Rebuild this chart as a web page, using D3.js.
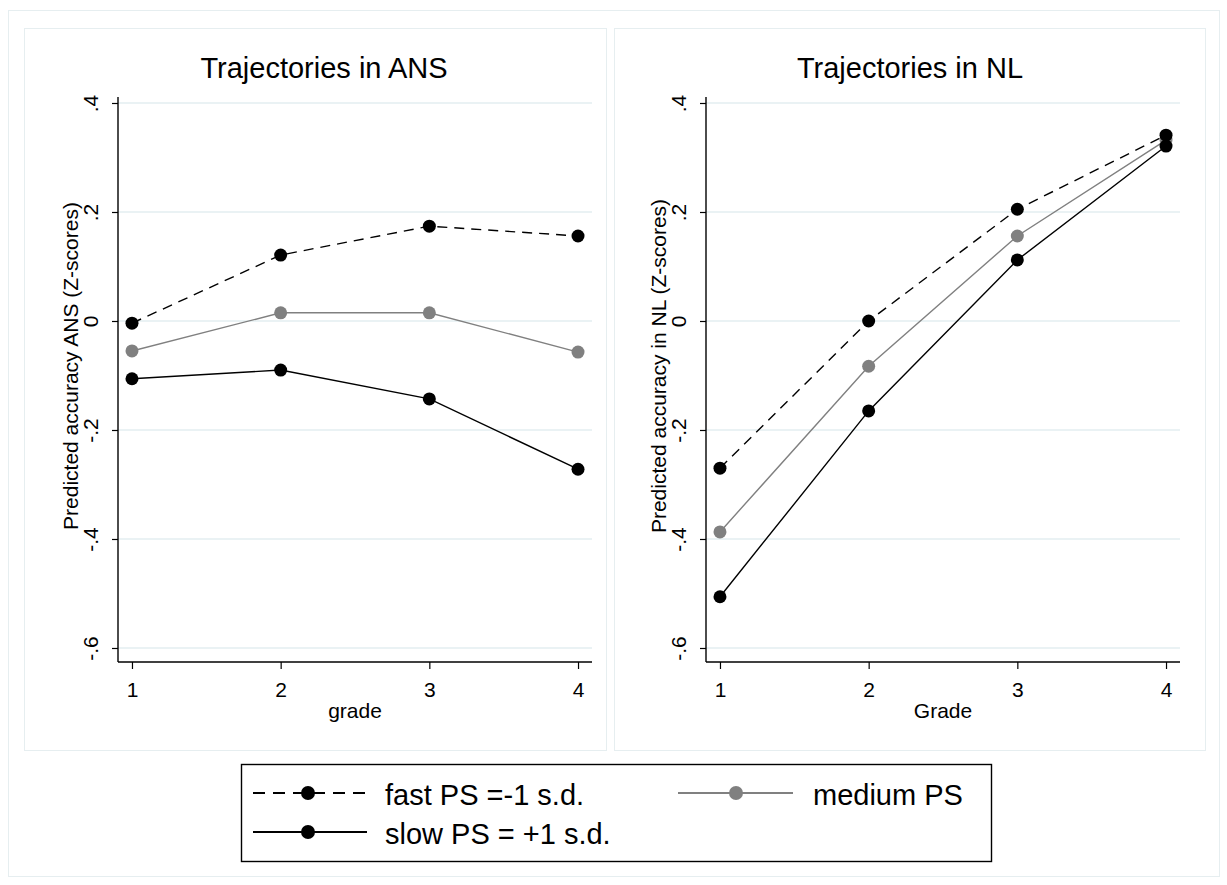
<!DOCTYPE html>
<html><head><meta charset="utf-8">
<script src="https://cdn.jsdelivr.net/npm/d3@7"></script>
<style>
body{margin:0;background:#fff;}
text{font-family:Arial,"Liberation Sans",sans-serif;fill:#000;}
</style></head><body>
<svg id="c" width="1227" height="885"></svg>
<script>
const grades = [1, 2, 3, 4];
const yTicks = [0.4, 0.2, 0, -0.2, -0.4, -0.6];
const yTickLabels = [".4", ".2", "0", "-.2", "-.4", "-.6"];
const ansFast = [-0.004, 0.121, 0.174, 0.156];
const ansMedium = [-0.055, 0.015, 0.015, -0.057];
const ansSlow = [-0.106, -0.090, -0.143, -0.272];
const nlFast = [-0.270, 0.000, 0.205, 0.341];
const nlMedium = [-0.387, -0.083, 0.156, 0.332];
const nlSlow = [-0.506, -0.165, 0.112, 0.321];
const seriesNames = ["fast PS =-1 s.d.", "medium PS", "slow PS = +1 s.d."];

const svg = d3.select("#c");
const frameCol = "#e6eef0";
const FF = "Arial,'Liberation Sans',sans-serif";
svg.append("rect").attr("x",8.5).attr("y",10.5).attr("width",1211).attr("height",866)
  .attr("fill","none").attr("stroke",frameCol);

const styles = [
  {stroke:"#000", dash:"10,7", fill:"#000"},
  {stroke:"#808080", dash:null, fill:"#808080"},
  {stroke:"#000", dash:null, fill:"#000"}
];

function panel(cfg){
  const g = svg.append("g");
  g.append("rect").attr("x",cfg.fx+0.5).attr("y",28.5).attr("width",cfg.fw).attr("height",722)
    .attr("fill","none").attr("stroke",frameCol);
  const x = d3.scaleLinear().domain([0.906, 4.094]).range([cfg.x0, cfg.x1]);
  const y = d3.scaleLinear().domain([-0.6257, 0.411]).range([662, 97]);
  g.selectAll(".grid").data(yTicks).enter().append("line")
    .attr("x1",cfg.x0).attr("x2",cfg.x1).attr("y1",d=>y(d)).attr("y2",d=>y(d))
    .attr("stroke","#e3eef0").attr("stroke-width",1.3);
  const ya = g.append("g").attr("transform",`translate(${cfg.x0},0)`)
    .call(d3.axisLeft(y).tickValues(yTicks).tickSize(6).tickFormat((d,i)=>yTickLabels[i]));
  ya.select(".domain").attr("d",`M0,${y.range()[1]}V${y.range()[0]}`).attr("stroke","#000").attr("stroke-width",1.4);
  ya.selectAll(".tick line").attr("stroke","#000").attr("stroke-width",1.2);
  ya.selectAll(".tick text").attr("transform","rotate(-90)").attr("x",0).attr("y",-20)
    .attr("dy","0").attr("text-anchor","middle").style("font-size","21px").style("font-family",FF);
  const xa = g.append("g").attr("transform",`translate(0,662)`)
    .call(d3.axisBottom(x).tickValues(grades).tickSize(7).tickFormat(d3.format("d")));
  xa.select(".domain").attr("d",`M${cfg.x0},0H${cfg.x1}`).attr("stroke","#000").attr("stroke-width",1.4);
  xa.selectAll(".tick line").attr("stroke","#000").attr("stroke-width",1.2);
  xa.selectAll(".tick text").attr("y",0).attr("dy","0").attr("transform","translate(0,35)")
    .style("font-size","21px").style("font-family",FF);
  g.append("text").attr("x",(cfg.x0+cfg.x1)/2).attr("y",718).attr("text-anchor","middle")
    .style("font-size","21px").text(cfg.xlabel);
  g.append("text").attr("transform",`translate(${cfg.x0-40},366) rotate(-90)`)
    .attr("text-anchor","middle").style("font-size","21px").text(cfg.ylabel);
  g.append("text").attr("x",cfg.tx).attr("y",78).attr("text-anchor","middle")
    .style("font-size","29px").text(cfg.title);
  const line = d3.line().x((d,i)=>x(grades[i])).y(d=>y(d));
  const order = [1,0,2];
  order.forEach(k=>{
    const s = cfg.series[k], st = styles[k];
    g.append("path").attr("d",line(s)).attr("fill","none").attr("stroke",st.stroke)
      .attr("stroke-width",1.4).attr("stroke-dasharray",st.dash);
  });
  order.forEach(k=>{
    const s = cfg.series[k], st = styles[k];
    g.selectAll(null).data(s).enter().append("circle")
      .attr("cx",(d,i)=>x(grades[i])).attr("cy",d=>y(d)).attr("r",6.5).attr("fill",st.fill);
  });
}

panel({fx:24, fw:582, x0:118, x1:592, tx:324, title:"Trajectories in ANS",
  xlabel:"grade", ylabel:"Predicted accuracy ANS (Z-scores)", series:[ansFast, ansMedium, ansSlow]});
panel({fx:614, fw:591, x0:706, x1:1180, tx:910, title:"Trajectories in NL",
  xlabel:"Grade", ylabel:"Predicted accuracy in NL (Z-scores)", series:[nlFast, nlMedium, nlSlow]});

const lg = svg.append("g");
lg.append("rect").attr("x",241.5).attr("y",764.5).attr("width",750).attr("height",97)
  .attr("fill","#fff").attr("stroke","#000").attr("stroke-width",1.4);
const items = [
  {k:0, lx:253, len:114, mx:308, tx:385, y:793},
  {k:1, lx:678, len:115, mx:736, tx:813, y:793},
  {k:2, lx:253, len:114, mx:308, tx:385, y:832}
];
items.forEach(it=>{
  const st = styles[it.k];
  lg.append("line").attr("x1",it.lx).attr("x2",it.lx+it.len).attr("y1",it.y).attr("y2",it.y)
    .attr("stroke",st.stroke).attr("stroke-width",2).attr("stroke-dasharray",it.k===0?"12,8":null);
  lg.append("circle").attr("cx",it.mx).attr("cy",it.y).attr("r",7).attr("fill",st.fill);
  lg.append("text").attr("x",it.tx).attr("y",it.y+12).style("font-size","29px")
    .text(seriesNames[it.k]);
});
</script></body></html>
